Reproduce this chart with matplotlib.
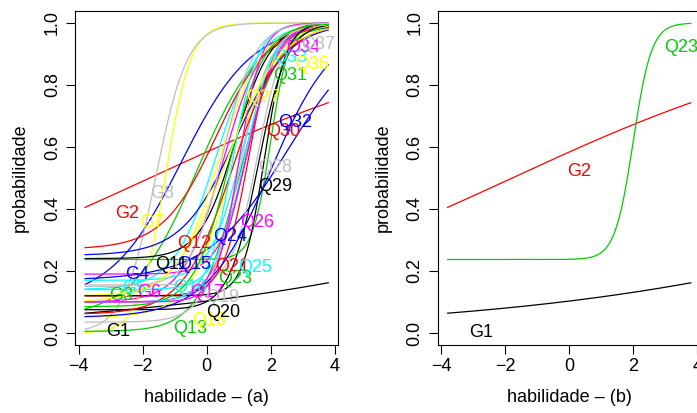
import numpy as np
import matplotlib
matplotlib.use("Agg")
from matplotlib import pyplot as plt

# R default palette (col = 1:8, recycled)
r_palette = ["black", "#FF0000", "#00CD00", "#0000FF", "#00FFFF", "#FF00FF", "#FFFF00", "#BEBEBE"]

# item parameters (3PL): discrimination a, difficulty b, guessing c
items = ["G1", "G2", "G3", "G4", "G5", "G6", "G7", "G8",
         "Q11", "Q12", "Q13", "Q15", "Q16", "Q17", "Q18", "Q19", "Q20", "Q21",
         "Q23", "Q24", "Q25", "Q26", "Q27", "Q28", "Q29", "Q30", "Q31", "Q32",
         "Q33", "Q34", "Q36", "Q37"]
a_par = [0.137, 0.19, 1.0, 0.9, 1.5, 1.6, 2.5, 2.0,
         1.8, 1.2, 1.6, 0.8, 2.0, 2.2, 1.5, 2.5, 2.2, 2.5,
         3.5, 1.2, 2.2, 2.0, 1.5, 2.0, 3.0, 1.3, 1.8, 1.0,
         2.5, 2.8, 1.2, 2.0]
b_par = [15.8, -1.78, -0.3, -0.8, 0.3, 0.5, -1.3, -1.6,
         0.9, 0.3, 1.0, 2.5, 1.1, 1.3, 0.8, 1.6, 1.6, 1.3,
         2.0, 0.9, 1.2, 1.2, 0.4, 1.0, 1.8, 0.8, 0.7, 2.0,
         0.8, 1.0, 0.6, 0.5]
c_par = [0.0, 0.0, 0.05, 0.1, 0.14, 0.1, 0.0, 0.0,
         0.24, 0.27, 0.005, 0.17, 0.17, 0.19, 0.05, 0.155, 0.075, 0.12,
         0.237, 0.25, 0.14, 0.1, 0.12, 0.035, 0.12, 0.06, 0.085, 0.05,
         0.1, 0.1, 0.1, 0.15]

# label positions, panel (a)
label_x_a = [-2.76, -2.48, -2.66, -2.16, -2.26, -1.79, -1.72, -1.38,
             -1.1, -0.38, -0.53, -0.38, -0.53, 0.0, 0.09, 0.47, 0.53, 0.78,
             0.88, 0.72, 1.5, 1.57, 1.76, 2.13, 2.13, 2.38, 2.6, 2.76,
             2.6, 3.0, 3.29, 3.48]
label_y_a = [0.006, 0.387, 0.12, 0.19, 0.145, 0.13, 0.355, 0.45,
             0.22, 0.29, 0.016, 0.22, 0.148, 0.13, 0.04, 0.113, 0.065, 0.213,
             0.177, 0.31, 0.21, 0.355, 0.76, 0.535, 0.474, 0.65, 0.83, 0.68,
             0.89, 0.92, 0.865, 0.93]

# panel (b): selected items and their label positions
items_b = ["G1", "G2", "Q23"]
label_x_b = [-2.75, 0.3, 3.5]
label_y_b = [0.0, 0.52, 0.92]

theta_min, theta_max = -3.8, 3.8
fs = 13


def icc(theta, a, b, c):
    return c + (1 - c) / (1 + np.exp(-a * (theta - b)))


def style_axes(ax, xlabel):
    ax.set_xlim(-4.11, 4.11)
    ax.set_ylim(-0.04, 1.04)
    ax.set_xticks([-4, -2, 0, 2, 4])
    ax.set_yticks([0.0, 0.2, 0.4, 0.6, 0.8, 1.0])
    ax.set_yticklabels(["0.0", "0.2", "0.4", "0.6", "0.8", "1.0"])
    ax.tick_params(axis="both", direction="out", length=6.3, width=0.8, labelsize=fs)
    ax.tick_params(axis="x", pad=3)
    ax.tick_params(axis="y", labelrotation=90, pad=4)
    for lab in ax.get_yticklabels():
        lab.set_va("center")
    for s in ax.spines.values():
        s.set_linewidth(0.8)
    ax.set_xlabel(xlabel, fontsize=fs, labelpad=10)


def main():
    plt.rcParams["font.family"] = ["Liberation Sans", "DejaVu Sans"]
    fig = plt.figure(figsize=(6.97, 4.13), dpi=100)
    ax1 = fig.add_axes([0.1079, 0.1637, 0.3773, 0.8107])
    ax2 = fig.add_axes([0.6281, 0.1637, 0.3773, 0.8107])

    theta = np.linspace(theta_min, theta_max, 300)

    # (a) all items
    for i, name in enumerate(items):
        col = r_palette[i % 8]
        ax1.plot(theta, icc(theta, a_par[i], b_par[i], c_par[i]), color=col, lw=0.9)
    for i, name in enumerate(items):
        col = r_palette[i % 8]
        ax1.text(label_x_a[i], label_y_a[i], name, color=col, fontsize=fs,
                 ha="center", va="center")
    style_axes(ax1, "habilidade \u2013 (a)")

    # (b) selected items
    for k, name in enumerate(items_b):
        i = items.index(name)
        col = r_palette[i % 8]
        ax2.plot(theta, icc(theta, a_par[i], b_par[i], c_par[i]), color=col, lw=0.9)
        ax2.text(label_x_b[k], label_y_b[k], name, color=col, fontsize=fs,
                 ha="center", va="center")
    style_axes(ax2, "habilidade \u2013 (b)")

    fig.text(20 / 697, 1 - 178 / 413, "probabilidade", rotation=90, fontsize=fs,
             ha="center", va="center")
    fig.text(383 / 697, 1 - 178 / 413, "probabilidade", rotation=90, fontsize=fs,
             ha="center", va="center")

    fig.savefig("out.png", dpi=100)


if __name__ == "__main__":
    main()
